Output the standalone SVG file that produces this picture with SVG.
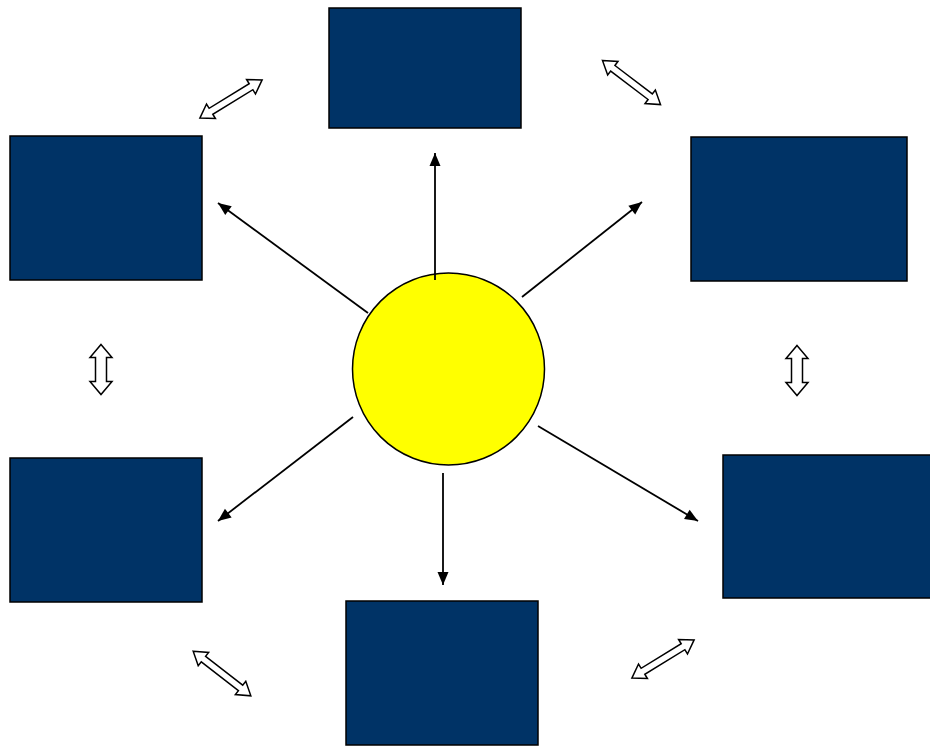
<svg xmlns="http://www.w3.org/2000/svg" width="930" height="747" viewBox="0 0 930 747">
<style>
.box{fill:#003366;stroke:#000;stroke-width:1.5}
.sun{fill:#ffff00;stroke:#000;stroke-width:1.5}
.con{stroke:#000;stroke-width:1.8;fill:none}
.dbl{fill:#fff;stroke:#000;stroke-width:1.5;stroke-linejoin:miter}
</style>
<defs>
<marker id="ah" markerUnits="userSpaceOnUse" markerWidth="15" markerHeight="14" refX="14" refY="7" orient="auto">
<path d="M1,1.5 L14,7 L1,12.5 Z" fill="#000"/>
</marker>
<path id="dd" d="M-36.5,0 L-23.5,-8.5 L-23.5,-3.5 L23.5,-3.5 L23.5,-8.5 L36.5,0 L23.5,8.5 L23.5,3.5 L-23.5,3.5 L-23.5,8.5 Z"/>
<path id="dv" d="M-25,0 L-12,-11 L-12,-5.5 L12,-5.5 L12,-11 L25,0 L12,11 L12,5.5 L-12,5.5 L-12,11 Z"/>
</defs>
<rect width="930" height="747" fill="#fff"/>
<g id="center"><circle class="sun" cx="448.5" cy="369" r="96"/></g>
<g id="top"><rect class="box" x="329" y="8" width="192" height="120"/></g>
<g id="upper-left"><rect class="box" x="10" y="136" width="192" height="144"/></g>
<g id="upper-right"><rect class="box" x="691" y="137" width="216" height="144"/></g>
<g id="lower-left"><rect class="box" x="10" y="458" width="192" height="144"/></g>
<g id="lower-right"><rect class="box" x="723" y="455" width="210" height="143"/></g>
<g id="bottom"><rect class="box" x="346" y="601" width="192" height="144"/></g>
<g id="connectors">
<line class="con" x1="435" y1="280" x2="435" y2="153" marker-end="url(#ah)"/>
<line class="con" x1="368" y1="313" x2="218" y2="203" marker-end="url(#ah)"/>
<line class="con" x1="522" y1="297" x2="642" y2="202" marker-end="url(#ah)"/>
<line class="con" x1="353" y1="417" x2="218" y2="521" marker-end="url(#ah)"/>
<line class="con" x1="443" y1="473" x2="443" y2="585" marker-end="url(#ah)"/>
<line class="con" x1="538" y1="426" x2="698" y2="521" marker-end="url(#ah)"/>
<use href="#dd" class="dbl" transform="translate(231,99) rotate(-31.5)"/>
<use href="#dd" class="dbl" transform="translate(631.5,82.5) rotate(37.3)"/>
<use href="#dv" class="dbl" transform="translate(101,369.5) rotate(90)"/>
<use href="#dv" class="dbl" transform="translate(797,370.5) rotate(90)"/>
<use href="#dd" class="dbl" transform="translate(222,673.5) rotate(37.8)"/>
<use href="#dd" class="dbl" transform="translate(663,659) rotate(-31.5)"/>
</g>
</svg>
